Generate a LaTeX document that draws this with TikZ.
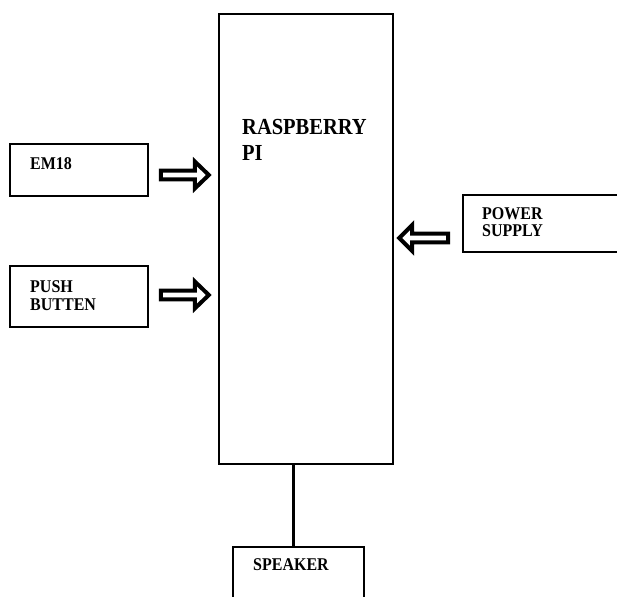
\documentclass[tikz,border=0pt]{standalone}
\usepackage{fontspec}
\setmainfont{Liberation Serif}
\newcommand{\tallbox}[1]{\scalebox{1}[1.12]{#1}}
\tikzset{
  blockbox/.style={draw=black, line width=1.6pt, fill=none, inner sep=0pt},
  smalltext/.style={inner sep=0pt, anchor=base west, font=\fontsize{16}{18}\selectfont\bfseries},
  bigtext/.style={inner sep=0pt, anchor=base west, font=\fontsize{20.5}{24}\selectfont\bfseries},
  hollowarrow/.style={draw=black, line width=4pt, line join=miter, miter limit=3, fill=white},
  wire/.style={draw=black, line width=3pt}
}
\begin{document}
\begin{tikzpicture}[x=1pt,y=-1pt]
\useasboundingbox (0,0) rectangle (617,596);
\fill[white] (0,0) rectangle (617,596);
\clip (0,0) rectangle (617,596);
% blocks
\node[blockbox, minimum width=174pt, minimum height=450pt] (pi) at (306,239) {};
\node[blockbox, minimum width=138pt, minimum height=52pt] (em) at (79,170) {};
\node[blockbox, minimum width=138pt, minimum height=61pt] (push) at (79,296.5) {};
\node[blockbox, minimum width=200pt, minimum height=57pt] (power) at (563,223.5) {};
\node[blockbox, minimum width=131pt, minimum height=100pt] (spk) at (298.5,597) {};
% labels
\node[bigtext] (t1) at (242,135) {\tallbox{RASPBERRY}};
\node[bigtext] (t2) at (242,160) {\tallbox{PI}};
\node[smalltext] (t3) at (30,169) {\tallbox{EM18}};
\node[smalltext] (t4) at (30,292) {\tallbox{PUSH}};
\node[smalltext] (t5) at (30,310) {\tallbox{BUTTEN}};
\node[smalltext] (t6) at (482,219) {\tallbox{POWER}};
\node[smalltext] (t7) at (482,236) {\tallbox{SUPPLY}};
\node[smalltext] (t8) at (253,570) {\tallbox{SPEAKER}};
% arrow anchors
\coordinate (a1) at (em.east |- 0,175);
\coordinate (a2) at (push.east |- 0,295);
\coordinate (a3) at (power.west |- 0,238);
% hollow arrows
\draw[hollowarrow] ([xshift=12pt,yshift=-4.3pt]a1) -- ([xshift=46pt,yshift=-4.3pt]a1) -- ([xshift=46pt,yshift=-13.5pt]a1) -- ([xshift=60pt]a1) -- ([xshift=46pt,yshift=13.5pt]a1) -- ([xshift=46pt,yshift=4.3pt]a1) -- ([xshift=12pt,yshift=4.3pt]a1) -- cycle;
\draw[hollowarrow] ([xshift=12pt,yshift=-4.3pt]a2) -- ([xshift=46pt,yshift=-4.3pt]a2) -- ([xshift=46pt,yshift=-13.5pt]a2) -- ([xshift=60pt]a2) -- ([xshift=46pt,yshift=13.5pt]a2) -- ([xshift=46pt,yshift=4.3pt]a2) -- ([xshift=12pt,yshift=4.3pt]a2) -- cycle;
\draw[hollowarrow] ([xshift=-14pt,yshift=-4.3pt]a3) -- ([xshift=-50pt,yshift=-4.3pt]a3) -- ([xshift=-50pt,yshift=-13pt]a3) -- ([xshift=-63pt]a3) -- ([xshift=-50pt,yshift=13pt]a3) -- ([xshift=-50pt,yshift=4.3pt]a3) -- ([xshift=-14pt,yshift=4.3pt]a3) -- cycle;
% speaker wire
\draw[wire] (pi.south -| 293,0) -- (spk.north -| 293,0);
\end{tikzpicture}
\end{document}
